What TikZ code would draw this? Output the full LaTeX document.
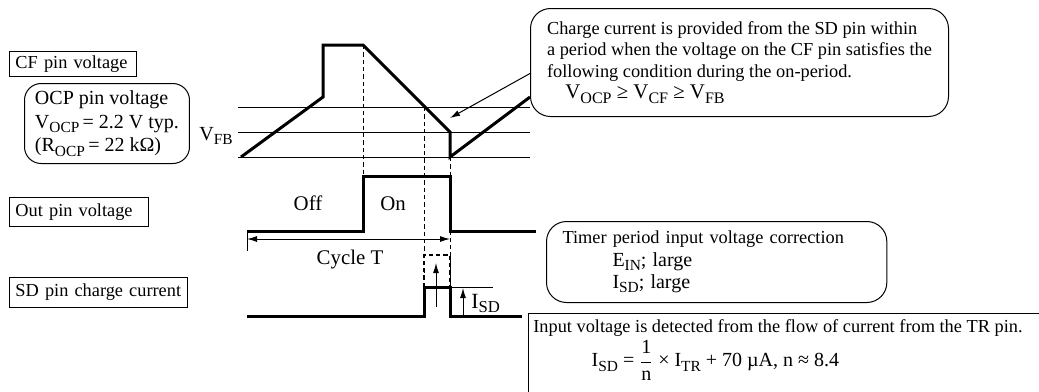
\documentclass[tikz,border=0pt]{standalone}
\usepackage{fontspec}
\setmainfont{Liberation Serif}
\usetikzlibrary{positioning,arrows.meta}

\makeatletter
\newcommand{\lowidx}[1]{\raisebox{-0.22em}{\fontsize{\the\dimexpr0.77\dimexpr\f@size pt\relax\relax}{1pt}\selectfont #1}}
\makeatother
\newcommand{\bigline}{\fontsize{12.5}{14}\selectfont}

\begin{document}
\begin{tikzpicture}[x=0.6pt, y=-0.6pt,
    font=\fontsize{11}{13}\selectfont,
    pinbox/.style={rectangle, draw=black, line width=0.6pt, inner xsep=3.6pt, inner ysep=0pt,
      minimum height=17.4pt, align=left, anchor=north west},
    notebox/.style={rectangle, rounded corners=11pt, draw=black, line width=0.6pt,
      align=left, inner sep=0pt, anchor=north west},
    label/.style={inner sep=0pt, font=\bigline},
    wave/.style={line width=1.8pt},
    level/.style={line width=0.6pt},
    guide/.style={line width=0.6pt, dash pattern=on 2.6pt off 1.8pt},
    pointer/.style={line width=0.6pt, -{Latex[length=6pt,width=3.6pt]}}]

  \useasboundingbox (0,0) rectangle (1039,391);
  \clip (0,0) rectangle (1039,391);

  % Define nodes
  \node[pinbox, text width=69pt, minimum height=15pt] (cfbox) at (9,51) {CF pin voltage};
  \node[pinbox, text width=76.2pt] (outbox) at (9,197) {Out pin voltage};
  \node[pinbox, text width=99.6pt, minimum height=18pt] (sdbox) at (9,277) {SD pin charge current};

  \node[notebox, minimum width=99pt, minimum height=48pt, rounded corners=10pt,
    font=\fontsize{12}{14.1}\selectfont] (ocpbox) at (24,83)
    {OCP pin voltage\\V\lowidx{OCP}\,= 2.2 V typ.\\(R\lowidx{OCP}\,= 22 kΩ)};

  \node[notebox, minimum width=250.8pt, minimum height=64.8pt, rounded corners=12pt,
    font=\fontsize{11}{12.8}\selectfont] (note) at (530,8)
    {Charge current is provided from the SD pin within\\
     a period when the voltage on the CF pin satisfies the\\
     following condition during the on-period.\\
     \hspace*{11pt}\bigline V\lowidx{OCP} ≥ V\lowidx{CF} ≥ V\lowidx{FB}};

  \node[notebox, text width=185pt, inner xsep=9.6pt, minimum height=48.6pt, rounded corners=12pt,
    font=\fontsize{11}{13.5}\selectfont] (timer) at (546,221)
    {Timer period input voltage correction\\
     \hspace*{30pt}\fontsize{12}{13.5}\selectfont E\lowidx{IN}; large\\
     \hspace*{30pt}\fontsize{12}{13.5}\selectfont I\lowidx{SD}; large};

  \node[anchor=north west, align=left, inner xsep=3pt, inner ysep=4pt] (trnote) at (528,313)
    {Input voltage is detected from the flow of current from the TR pin.\\[1pt]
     \hspace*{35pt}\fontsize{12}{14}\selectfont
     I\lowidx{SD} = $\displaystyle\frac{\mbox{1}}{\mbox{n}}$ × I\lowidx{TR} + 70 µA, n ≈ 8.4};
  \draw[level] (trnote.north west) -- ++(600,0);
  \draw[level] (trnote.north west) -- ++(0,100);

  % CF pin voltage
  \foreach \yy in {107,132,157}
    \draw[level] (238,\yy) -- (530,\yy);
  \node[label, anchor=base east, font=\fontsize{12}{14}\selectfont] (vfb) at (233,140) {V\lowidx{FB}};
  \draw[wave] (241,157) -- (323,97) -- (323,45) -- (363,45) -- (450,132) -- (450,157) -- (530,97);

  % guides
  \draw[guide] (363,45) -- (363,176);
  \draw[guide] (424,107) -- (424,287);
  \draw[guide] (450,157) -- (450,287);
  \draw[guide, line width=1.2pt] (424,287) -- (424,255) -- (450,255) -- (450,287);

  % Out pin voltage
  \draw[wave] (247,231) -- (363,231) -- (363,176) -- (450,176) -- (450,231) -- (536,231);
  \node[label, anchor=base] (off) at (308,210) {Off};
  \node[label, anchor=base] (on) at (393,210) {On};

  \draw[level] (247,231) -- (247,251);
  \draw[level, {Latex[length=6pt,width=3.6pt]}-{Latex[length=6pt,width=3.6pt]}] (247,239) -- (450,239);
  \node[label, anchor=base] (cycle) at (350,264) {Cycle T};

  % SD pin charge current
  \draw[wave] (247,316) -- (424,316) -- (424,287) -- (450,287) -- (450,316) -- (522,316);
  \draw[level] (450,287) -- (493,287);
  \draw[pointer] (436,307) -- (436,263);
  \draw[pointer] (463,316) -- (463,288);
  \node[label, anchor=base west, font=\fontsize{13}{15}\selectfont] (isd) at (471,308) {I\lowidx{SD}};

  \coordinate (onpoint) at (450,118);
  \draw[pointer] (note.183) -- (onpoint);

\end{tikzpicture}
\end{document}
